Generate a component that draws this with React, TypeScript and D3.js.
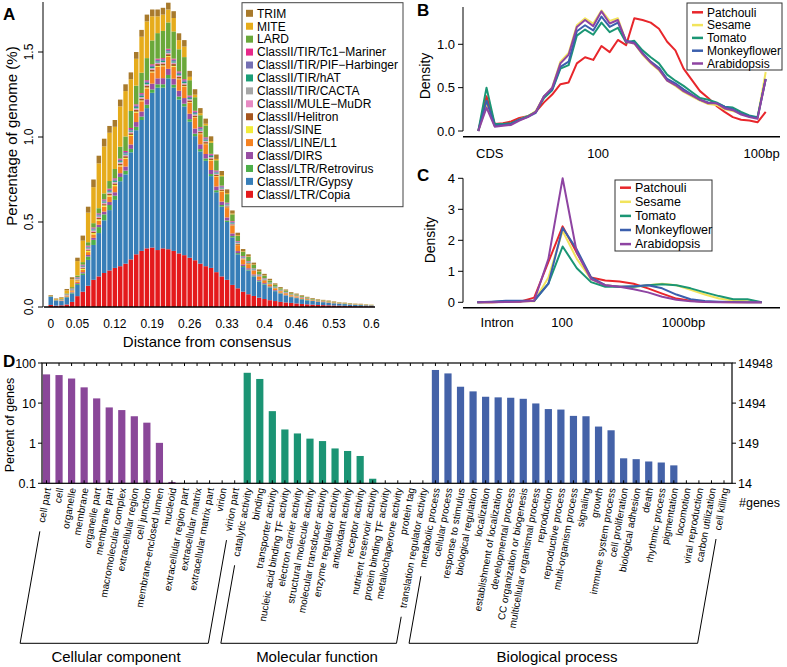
import React, { useEffect, useRef } from "react";
import * as d3 from "d3";

const FONT = "'Liberation Sans', Arial, Helvetica, sans-serif";

// ---------- A: repeat landscape (% of genome per distance bin) ----------
const distanceBins = d3.range(61); // bins 0.00 .. 0.60
const distanceTickBins = [0, 5, 12, 19, 26, 33, 40, 46, 53, 60];
const distanceTickLabels = ["0", "0.05", "0.12", "0.19", "0.26", "0.33", "0.4", "0.46", "0.53", "0.6"];

const copia = [.012,.008,.01,.015,.03,.064,.09,.125,.16,.18,.20,.215,.23,.24,.255,.28,.31,.33,.345,.35,.335,.345,.34,.33,.315,.305,.29,.275,.255,.24,.23,.205,.18,.16,.13,.11,.09,.075,.065,.055,.047,.04,.035,.03,.027,.024,.021,.018,.016,.014,.012,.011,.01,.009,.008,.007,.006,.005,.005,.004,.004];
const gypsy = [.05,.03,.025,.042,.05,.066,.098,.152,.205,.255,.31,.355,.40,.50,.525,.63,.73,.77,.825,.91,.955,.945,1.005,.96,.905,.875,.80,.73,.66,.62,.54,.47,.41,.34,.28,.20,.145,.14,.115,.095,.085,.075,.058,.048,.04,.034,.031,.027,.023,.021,.019,.017,.015,.012,.011,.01,.008,.007,.006,.005,.004];
const retrovirus = [0,0,0,.002,.004,.006,.01,.02,.03,.035,.035,.03,.025,.025,.022,.02,.02,.02,.02,.02,.02,.02,.02,.018,.018,.016,.015,.015,.014,.014,.012,.012,.01,.009,.008,.007,.006,.005,.005,.004,.004,.003,.003,.003,.002,.002,.002,.002,.002,.002,.001,.001,.001,.001,.001,.001,.001,.001,.001,.001,.001];
const dirs = [0,0,.001,.002,.003,.005,.007,.009,.012,.014,.016,.018,.02,.022,.024,.026,.028,.03,.032,.034,.035,.036,.036,.035,.034,.033,.032,.03,.028,.026,.024,.022,.02,.018,.015,.012,.01,.008,.007,.006,.005,.004,.004,.003,.003,.002,.002,.002,.002,.001,.001,.001,.001,.001,.001,.001,.001,.001,.001,.001,.001];
const lineL1 = [0,.001,.002,.004,.006,.01,.013,.017,.02,.024,.028,.032,.036,.04,.045,.05,.055,.06,.064,.066,.068,.07,.07,.07,.068,.066,.064,.062,.06,.058,.056,.058,.06,.055,.045,.035,.028,.024,.02,.017,.014,.012,.01,.009,.008,.007,.006,.005,.005,.004,.004,.003,.003,.003,.002,.002,.002,.002,.002,.001,.001];
const sine = [0,0,.001,.002,.003,.005,.007,.008,.008,.008,.008,.007,.007,.006,.006,.006,.006,.005,.005,.005,.005,.005,.005,.005,.004,.004,.004,.004,.004,.003,.003,.003,.003,.003,.002,.002,.002,.002,.001,.001,.001,.001,.001,.001,.001,.001,.001,0,0,0,0,0,0,0,0,0,0,0,0,0,0];
const helitron = [0,0,.001,.002,.003,.004,.005,.006,.007,.008,.008,.009,.009,.01,.01,.01,.011,.011,.011,.011,.011,.011,.011,.011,.01,.01,.01,.01,.009,.009,.009,.008,.008,.007,.006,.005,.004,.004,.003,.003,.003,.002,.002,.002,.002,.001,.001,.001,.001,.001,.001,.001,.001,.001,0,0,0,0,0,0,0];
const mule = [0,0,.001,.001,.002,.003,.004,.005,.006,.006,.006,.006,.006,.006,.006,.006,.006,.006,.006,.006,.006,.006,.006,.006,.006,.005,.005,.005,.005,.005,.005,.004,.004,.004,.003,.003,.003,.002,.002,.002,.002,.001,.001,.001,.001,.001,.001,.001,0,0,0,0,0,0,0,0,0,0,0,0,0];
const cacta = [0,0,0,.001,.001,.002,.002,.003,.003,.003,.003,.003,.003,.003,.003,.003,.003,.003,.003,.003,.003,.003,.003,.003,.003,.003,.003,.003,.003,.003,.003,.003,.002,.002,.002,.002,.002,.001,.001,.001,.001,.001,.001,.001,.001,0,0,0,0,0,0,0,0,0,0,0,0,0,0,0,0];
const hat = [0,0,.001,.001,.002,.003,.004,.005,.005,.005,.006,.006,.006,.006,.006,.006,.007,.007,.007,.007,.007,.007,.007,.007,.007,.007,.006,.006,.006,.006,.006,.005,.005,.005,.004,.004,.003,.003,.003,.002,.002,.002,.002,.001,.001,.001,.001,.001,.001,0,0,0,0,0,0,0,0,0,0,0,0];
const pif = [0,.001,.001,.002,.003,.004,.005,.006,.007,.008,.008,.009,.009,.009,.01,.01,.01,.01,.01,.01,.01,.01,.01,.01,.01,.01,.009,.009,.009,.009,.008,.008,.008,.007,.006,.005,.004,.004,.003,.003,.003,.002,.002,.002,.002,.001,.001,.001,.001,.001,.001,.001,0,0,0,0,0,0,0,0,0];
const tc1 = [0,0,.001,.001,.002,.003,.004,.005,.005,.005,.005,.006,.006,.006,.006,.006,.006,.006,.006,.006,.006,.006,.006,.006,.006,.006,.006,.005,.005,.005,.005,.005,.004,.004,.004,.003,.003,.002,.002,.002,.002,.001,.001,.001,.001,.001,.001,.001,0,0,0,0,0,0,0,0,0,0,0,0,0];
const lard = [.001,.002,.003,.005,.008,.01,.015,.02,.025,.03,.035,.045,.055,.07,.085,.10,.11,.12,.13,.14,.15,.16,.155,.16,.13,.13,.09,.08,.07,.07,.065,.06,.055,.05,.04,.03,.025,.025,.02,.018,.015,.012,.01,.008,.007,.006,.005,.005,.004,.004,.003,.003,.003,.002,.002,.002,.002,.001,.001,.001,.001];
const mite = [.003,.004,.005,.018,.046,.085,.126,.174,.212,.264,.277,.284,.248,.237,.267,.187,.158,.212,.216,.142,.099,.096,.076,.079,.054,.062,.02,.015,.012,.01,.01,.008,.007,.006,.005,.004,.003,.003,.003,.002,.002,.002,.002,.001,.001,.001,.001,.001,.001,.001,.001,.001,.001,.001,.001,.001,.001,.001,.001,.001,.001];
const trim = [.004,.004,.005,.008,.012,.02,.03,.035,.045,.045,.045,.04,.04,.04,.04,.04,.04,.04,.04,.04,.04,.04,.04,.04,.04,.038,.035,.032,.03,.03,.028,.026,.024,.022,.018,.015,.013,.012,.011,.01,.009,.008,.007,.006,.006,.005,.005,.004,.004,.004,.003,.003,.003,.003,.002,.002,.002,.002,.002,.002,.001];

// stack order, bottom to top
const repeatKeys = [
  "ClassI/LTR/Copia", "ClassI/LTR/Gypsy", "ClassI/LTR/Retrovirus", "ClassI/DIRS", "ClassI/LINE/L1",
  "ClassI/SINE", "ClassII/Helitron", "ClassII/MULE\u2212MuDR", "ClassII/TIR/CACTA", "ClassII/TIR/hAT",
  "ClassII/TIR/PIF\u2212Harbinger", "ClassII/TIR/Tc1\u2212Mariner", "LARD", "MITE", "TRIM",
];
const repeatSeries = [copia, gypsy, retrovirus, dirs, lineL1, sine, helitron, mule, cacta, hat, pif, tc1, lard, mite, trim];
const repeatColors = [
  "#e41a1c", "#377eb8", "#4daf4a", "#984ea3", "#f58220",
  "#f2ec3a", "#a6561e", "#e78ac3", "#a6a6a6", "#1b9e77",
  "#7570b3", "#e7298a", "#6aa83a", "#e6ac1c", "#a87a2c",
];

// ---------- B / C: distance density curves ----------
const species = ["Patchouli", "Sesame", "Tomato", "Monkeyflower", "Arabidopsis"];
const speciesColors = ["#e8262b", "#f2e45c", "#1b9674", "#3b5fad", "#8e44a2"];

const cdsPatchouli = [0,.40,.08,.09,.11,.15,.17,.22,.33,.42,.54,.56,.78,.85,.82,.98,.91,1.05,.99,1.30,1.28,1.25,1.18,1.03,.93,.72,.59,.46,.38,.29,.22,.16,.13,.12,.10,.22];
const cdsSesame = [0,.30,.06,.07,.08,.13,.17,.23,.40,.50,.80,.90,1.22,1.30,1.24,1.39,1.27,1.30,1.03,1.01,.88,.78,.70,.58,.52,.45,.40,.35,.31,.30,.25,.23,.20,.17,.15,.68];
const cdsTomato = [0,.50,.08,.08,.09,.13,.17,.22,.38,.47,.72,.76,1.10,1.17,1.11,1.25,1.14,1.19,1.02,1.04,.93,.85,.78,.65,.58,.52,.45,.38,.36,.33,.28,.27,.22,.18,.16,.60];
const cdsMonkeyflower = [0,.35,.06,.07,.08,.13,.16,.21,.40,.48,.74,.80,1.15,1.22,1.16,1.32,1.20,1.25,1.04,1.02,.90,.80,.73,.60,.55,.48,.42,.36,.33,.32,.28,.25,.20,.17,.15,.60];
const cdsArabidopsis = [0,.27,.05,.06,.07,.12,.16,.22,.40,.50,.78,.88,1.20,1.28,1.21,1.38,1.24,1.28,1.03,1.01,.89,.79,.71,.58,.53,.46,.41,.36,.32,.32,.26,.24,.19,.16,.14,.60];
const cdsTickPos = [1.4, 14.6, 34.5];
const cdsTickLabels = ["CDS", "100", "100bp"];

const intronPatchouli = [0,0,.02,.02,.15,1.3,2.45,1.6,.8,.7,.67,.6,.45,.28,.12,.05,.02,.01,0,0,0];
const intronSesame = [0,0,.02,.03,.03,.8,2.3,1.4,.75,.55,.5,.5,.55,.6,.55,.4,.25,.12,.06,.03,0];
const intronTomato = [0,.01,.03,.04,.05,.6,1.8,1.1,.65,.5,.5,.5,.55,.58,.55,.45,.32,.2,.1,.1,0];
const intronMonkeyflower = [0,.02,.05,.05,.05,.6,2.4,1.7,.8,.55,.5,.52,.55,.45,.25,.1,.04,.02,.01,0,0];
const intronArabidopsis = [0,0,.01,.02,.05,1.4,4.0,1.6,.75,.55,.5,.42,.32,.18,.08,.03,.01,0,0,0,0];
const intronTickPos = [1.4, 5.96, 14.5];
const intronTickLabels = ["Intron", "100", "1000bp"];

// ---------- D: GO classification ----------
const ccTerms = ["cell part", "cell", "organelle", "membrane", "organelle part", "membrane part", "macromolecular complex", "extracellular region", "cell junction", "membrane-enclosed lumen", "nucleoid", "extracellular region part", "extracellular matrix", "extracellular matrix part", "virion", "virion part"];
const ccPercent = [52, 50, 41, 24.7, 13.1, 7.8, 6.7, 4.7, 3.25, 1.02, 0.108, 0, 0, 0, 0, 0];
const mfTerms = ["catalytic activity", "binding", "transporter activity", "nucleic acid binding TF activity", "electron carrier activity", "structural molecule activity", "molecular transducer activity", "enzyme regulator activity", "antioxidant activity", "receptor activity", "nutrient reservoir activity", "protein binding TF activity", "metallochaperone activity", "protein tag", "translation regulator activity"];
const mfPercent = [57, 40, 6.3, 2.2, 1.75, 1.3, 1.13, 0.74, 0.64, 0.48, 0.13, 0, 0, 0, 0];
const bpTerms = ["metabolic process", "cellular process", "response to stimulus", "biological regulation", "localization", "establishment of localization", "developmental process", "CC organization or biogenesis", "multicellular organismal process", "reproduction", "reproductive process", "multi-organism process", "signaling", "growth", "immune system process", "cell proliferation", "biological adhesion", "death", "rhythmic process", "pigmentation", "locomotion", "viral reproduction", "carbon utilization", "cell killing"];
const bpPercent = [67, 55, 25.6, 19.6, 14.4, 13.9, 13.6, 12.8, 9.8, 7.1, 6.9, 4.8, 4.7, 2.6, 2.1, 0.42, 0.40, 0.35, 0.33, 0.28, 0, 0, 0, 0];
const goGroups = ["Cellular component", "Molecular function", "Biological process"];
const goColors = ["#8a4799", "#1b9474", "#4462a8"];
const percentTicks = [100, 10, 1, 0.1];
const percentTickLabels = ["100", "10", "1", "0.1"];
const geneTickLabels = ["14948", "1494", "149", "14"];

const App = () => {
  const svgRef = useRef<SVGSVGElement>(null);

  useEffect(() => {
    const svg = d3.select(svgRef.current);
    svg.selectAll("*").remove();
    svg.attr("font-family", FONT);

    const letter = (t: string, x: number, y: number) =>
      svg.append("text").attr("x", x).attr("y", y).attr("font-size", 17).attr("font-weight", "bold").text(t);

    // ===================== A =====================
    const xA = d3.scaleBand<number>().domain(distanceBins).range([48.5, 373.6]).paddingInner(0.16);
    const yA = d3.scaleLinear().domain([0, 1.5]).range([307, 52]);

    const rows = distanceBins.map((bin, i) => {
      const row: Record<string, number> = { bin };
      repeatKeys.forEach((k, j) => (row[k] = repeatSeries[j][i]));
      return row;
    });
    const stacked = d3.stack<Record<string, number>>().keys(repeatKeys)(rows);

    svg.append("g").selectAll("g").data(stacked).join("g")
      .attr("fill", (_, i) => repeatColors[i])
      .selectAll("rect").data((d) => d).join("rect")
      .attr("x", (d) => xA(d.data.bin)!)
      .attr("width", xA.bandwidth())
      .attr("y", (d) => yA(d[1]))
      .attr("height", (d) => Math.max(0, yA(d[0]) - yA(d[1])));

    // axes
    svg.append("line").attr("x1", 44).attr("x2", 375).attr("y1", yA(0)).attr("y2", yA(0))
      .attr("stroke", "#000").attr("stroke-width", 1.6);
    svg.append("line").attr("x1", 43).attr("x2", 43).attr("y1", yA(0)).attr("y2", 2).attr("stroke", "#000");
    const aTicks = svg.append("g").selectAll("g").data([0, 0.5, 1, 1.5]).join("g");
    aTicks.append("line").attr("x1", 38).attr("x2", 43).attr("y1", (d) => yA(d)).attr("y2", (d) => yA(d)).attr("stroke", "#000");
    aTicks.append("text").attr("font-size", 12).attr("text-anchor", "middle")
      .attr("transform", (d) => `translate(33,${yA(d)}) rotate(-90)`).text((d) => d.toFixed(1));

    svg.append("g").selectAll("text").data(distanceTickBins).join("text")
      .attr("x", (d) => xA(d)! + xA.bandwidth() / 2).attr("y", 328)
      .attr("font-size", 12).attr("text-anchor", "middle")
      .text((_, i) => distanceTickLabels[i]);
    svg.append("text").attr("x", 207).attr("y", 347).attr("font-size", 15).attr("text-anchor", "middle")
      .text("Distance from consensus");
    svg.append("text").attr("transform", "translate(16.5,136) rotate(-90)").attr("font-size", 15)
      .attr("text-anchor", "middle").text("Percentage of genome (%)");

    // legend A
    svg.append("rect").attr("x", 242).attr("y", 2.7).attr("width", 161).attr("height", 204)
      .attr("fill", "#fff").attr("stroke", "#444").attr("stroke-width", 1);
    const legA = svg.append("g").selectAll("g").data(d3.range(repeatKeys.length).reverse()).join("g")
      .attr("transform", (_, k) => `translate(0,${13.3 + k * 12.93})`);
    legA.append("rect").attr("x", 246).attr("y", -3.5).attr("width", 7).attr("height", 7).attr("fill", (j) => repeatColors[j]);
    legA.append("text").attr("x", 257).attr("y", 4.3).attr("font-size", 12).text((j) => repeatKeys[j]);
    letter("A", 3, 20);

    // ===================== B / C =====================
    const drawDensity = (
      series: number[][], yMax: number, yRange: [number, number], yTicks: number[], yFmt: (d: number) => string,
      xRange: [number, number], axisY: number, yAxisTop: number, tickPos: number[], tickLabels: string[],
      labelY: number, titleX: number, titleY: number,
      leg: { x: number; y: number; w: number; h: number; row0: number; step: number; fs: number },
    ) => {
      const x = d3.scaleLinear().domain([0, series[0].length - 1]).range(xRange);
      const y = d3.scaleLinear().domain([0, yMax]).range(yRange);
      const line = d3.line<number>().x((_, i) => x(i)).y((d) => y(d));
      const g = svg.append("g");
      g.selectAll("path").data(series).join("path")
        .attr("d", (d) => line(d)!).attr("fill", "none")
        .attr("stroke", (_, i) => speciesColors[i]).attr("stroke-width", 2).attr("stroke-linejoin", "round");
      g.append("line").attr("x1", 463).attr("x2", 463).attr("y1", y(0)).attr("y2", yAxisTop).attr("stroke", "#000");
      g.append("line").attr("x1", 463).attr("x2", 780).attr("y1", axisY).attr("y2", axisY).attr("stroke", "#000").attr("stroke-width", 1.5);
      const t = g.append("g").selectAll("g").data(yTicks).join("g");
      t.append("line").attr("x1", 458).attr("x2", 463).attr("y1", (d) => y(d)).attr("y2", (d) => y(d)).attr("stroke", "#000");
      t.append("text").attr("x", 455).attr("y", (d) => y(d) + 4.5).attr("font-size", 13).attr("text-anchor", "end").text(yFmt);
      g.append("g").selectAll("text").data(tickPos).join("text")
        .attr("x", (d) => x(d)).attr("y", labelY).attr("font-size", 13).attr("text-anchor", "middle")
        .text((_, i) => tickLabels[i]);
      g.append("text").attr("transform", `translate(${titleX},${titleY}) rotate(-90)`).attr("font-size", 14)
        .attr("text-anchor", "middle").text("Density");
      g.append("rect").attr("x", leg.x).attr("y", leg.y).attr("width", leg.w).attr("height", leg.h)
        .attr("fill", "#fff").attr("stroke", "#333");
      const li = g.append("g").selectAll("g").data(species).join("g")
        .attr("transform", (_, k) => `translate(${leg.x},${leg.row0 + k * leg.step})`);
      li.append("line").attr("x1", 5).attr("x2", 16).attr("stroke", (_, k) => speciesColors[k]).attr("stroke-width", 2.5);
      li.append("text").attr("x", 20).attr("y", 4.3).attr("font-size", leg.fs).text((d) => d);
    };

    drawDensity(
      [cdsPatchouli, cdsSesame, cdsTomato, cdsMonkeyflower, cdsArabidopsis], 1, [131, 44.3], [0, 0.5, 1],
      (d) => d.toFixed(1), [478.3, 765.7], 136.7, 7, cdsTickPos, cdsTickLabels, 158, 430, 76,
      { x: 687, y: 3, w: 95, h: 67, row0: 12.3, step: 12.8, fs: 12 },
    );
    letter("B", 417, 16);

    drawDensity(
      [intronPatchouli, intronSesame, intronTomato, intronMonkeyflower, intronArabidopsis], 4, [302.3, 178.3], [0, 1, 2, 3, 4],
      (d) => String(d), [477.3, 761.7], 307.7, 178.3, intronTickPos, intronTickLabels, 327, 435, 240,
      { x: 615, y: 180, w: 97, h: 71, row0: 187.7 - 180 + 180, step: 14.1, fs: 12.5 },
    );
    letter("C", 417, 181);

    // ===================== D =====================
    const termGroups = [ccTerms, mfTerms, bpTerms];
    const pctGroups = [ccPercent, mfPercent, bpPercent];
    const allTerms = termGroups.flat();
    const bars = termGroups.flatMap((terms, g) => terms.map((t, i) => ({ term: t, pct: pctGroups[g][i], g })));
    const xD = d3.scalePoint<string>().domain(allTerms).range([46.5, 724]);
    const yD = d3.scaleLog().domain([0.1, 100]).range([483.3, 363]);
    const gD = svg.append("g");

    gD.append("g").selectAll("rect").data(bars.filter((b) => b.pct > 0.1)).join("rect")
      .attr("x", (d) => xD(d.term)! - 3.6).attr("width", 7.2)
      .attr("y", (d) => yD(d.pct)).attr("height", (d) => yD(0.1) - yD(d.pct))
      .attr("fill", (d) => goColors[d.g]);
    gD.append("rect").attr("x", 42).attr("y", 363).attr("width", 690).attr("height", 120.3)
      .attr("fill", "none").attr("stroke", "#000").attr("stroke-width", 1.2);
    gD.append("g").selectAll("path").data(allTerms).join("path")
      .attr("d", (d) => `M${xD(d)},363v3M${xD(d)},483.3v-3`).attr("stroke", "#000");

    const lt = gD.append("g").selectAll("g").data(percentTicks).join("g");
    lt.append("line").attr("x1", 38).attr("x2", 42).attr("y1", (d) => yD(d)).attr("y2", (d) => yD(d)).attr("stroke", "#000");
    lt.append("text").attr("x", 36).attr("y", (d) => yD(d) + 4.5).attr("font-size", 12.5).attr("text-anchor", "end")
      .text((_, i) => percentTickLabels[i]);
    lt.append("line").attr("x1", 732).attr("x2", 736).attr("y1", (d) => yD(d)).attr("y2", (d) => yD(d)).attr("stroke", "#000");
    lt.append("text").attr("x", 738).attr("y", (d) => yD(d) + 4.5).attr("font-size", 12.5)
      .text((_, i) => geneTickLabels[i]);
    gD.append("text").attr("x", 739).attr("y", 507).attr("font-size", 12.5).text("#genes");
    gD.append("text").attr("transform", "translate(14,425) rotate(-90)").attr("font-size", 12.5)
      .attr("text-anchor", "middle").text("Percent of genes");

    const ang = (80 * Math.PI) / 180;
    const labelY = 488;
    const labels = gD.append("g").selectAll("text").data(allTerms).join("text")
      .attr("transform", (d) => `translate(${xD(d)! + 1},${labelY}) rotate(-80)`)
      .attr("dy", "0.35em").attr("font-size", 10).attr("text-anchor", "end").text((d) => d);
    const nodes = labels.nodes() as SVGTextElement[];

    const bracketBottom = 643.3;
    const groupTitleX = [116, 317, 557];
    let offset = 0;
    termGroups.forEach((terms, g) => {
      const first = offset, last = offset + terms.length - 1;
      offset += terms.length;
      const top = (idx: number) => {
        const L = nodes[idx].getComputedTextLength() + 9;
        const x0 = xD(allTerms[idx])! + 1;
        return [x0 - Math.cos(ang) * L, labelY + Math.sin(ang) * L];
      };
      const [lx, ly] = top(first);
      const [rx, ry] = top(last);
      const cot = Math.cos(ang) / Math.sin(ang);
      const lbx = lx - (bracketBottom - ly) * cot;
      const rbx = rx - (bracketBottom - ry) * cot;
      gD.append("path").attr("d", `M${lx},${ly}L${lbx},${bracketBottom}H${rbx}L${rx},${ry}`)
        .attr("fill", "none").attr("stroke", "#000").attr("stroke-width", 1);
      gD.append("text").attr("x", groupTitleX[g]).attr("y", 662).attr("font-size", 15)
        .attr("text-anchor", "middle").text(goGroups[g]);
    });
    letter("D", 3, 367);
  }, []);

  return (
    <svg
      ref={svgRef}
      width={787}
      height={667}
      style={{ position: "absolute", left: 0, top: 0, background: "#fff" }}
    />
  );
};

export default App;
